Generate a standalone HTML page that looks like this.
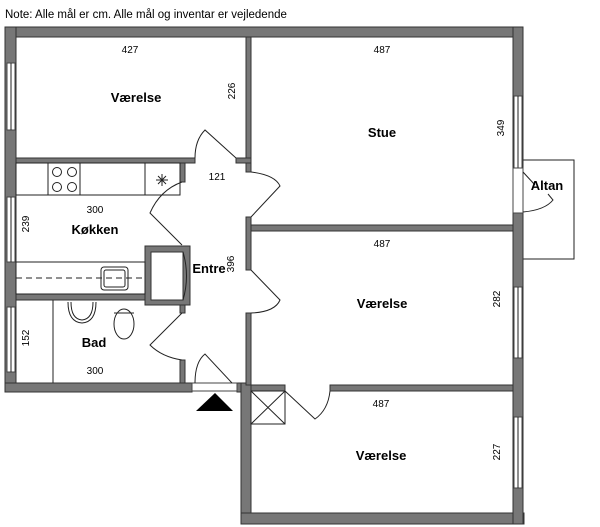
<!DOCTYPE html>
<html><head><meta charset="utf-8"><style>
html,body{margin:0;padding:0;background:#fff;width:600px;height:527px;overflow:hidden}
svg{display:block}
text{font-family:"Liberation Sans","DejaVu Sans",sans-serif;fill:#000}
.w{fill:#777;stroke:#333;stroke-width:1}
.l{fill:none;stroke:#222;stroke-width:1}
.win{fill:#fff;stroke:#444;stroke-width:1}
.t{font-size:10px}
.b{font-size:13px;font-weight:bold}
</style></head><body>
<svg width="600" height="527" viewBox="0 0 600 527">
<text x="5" y="18" style="font-size:11.5px">Note: Alle mål er cm. Alle mål og inventar er vejledende</text>
<rect x="523" y="160" width="51" height="99" class="l"/>
<rect x="5" y="27" width="518" height="10" class="w"/>
<rect x="5" y="27" width="11" height="365" class="w"/>
<rect x="5" y="383" width="187" height="9" class="w"/>
<rect x="237" y="383" width="14" height="9" class="w"/>
<rect x="241" y="383" width="10" height="141" class="w"/>
<rect x="241" y="513" width="283" height="11" class="w"/>
<rect x="513" y="27" width="10" height="497" class="w"/>
<rect x="246" y="37" width="5" height="135" class="w"/>
<rect x="16" y="158" width="179" height="5" class="w"/>
<rect x="236" y="158" width="15" height="5" class="w"/>
<rect x="246" y="217" width="5" height="53" class="w"/>
<rect x="251" y="225" width="262" height="6" class="w"/>
<rect x="246" y="313" width="5" height="72" class="w"/>
<rect x="251" y="385" width="34" height="6" class="w"/>
<rect x="330" y="385" width="183" height="6" class="w"/>
<rect x="180" y="163" width="5" height="19" class="w"/>
<rect x="16" y="294" width="134" height="6" class="w"/>
<rect x="145" y="246" width="45" height="59" class="w"/>
<rect x="151" y="252" width="32" height="48" fill="#fff" stroke="#333"/>
<rect x="180" y="305" width="5" height="8" class="w"/>
<rect x="180" y="360" width="5" height="23" class="w"/>
<rect x="7" y="63" width="8" height="67" class="win"/><line x1="11" y1="63" x2="11" y2="130" class="l"/>
<rect x="7" y="197" width="8" height="65" class="win"/><line x1="11" y1="197" x2="11" y2="262" class="l"/>
<rect x="7" y="307" width="8" height="65" class="win"/><line x1="11" y1="307" x2="11" y2="372" class="l"/>
<rect x="514" y="96" width="8" height="72" class="win"/><line x1="518" y1="96" x2="518" y2="168" class="l"/>
<rect x="513" y="168" width="10" height="45" class="win"/>
<rect x="514" y="287" width="8" height="71" class="win"/><line x1="518" y1="287" x2="518" y2="358" class="l"/>
<rect x="514" y="417" width="8" height="71" class="win"/><line x1="518" y1="417" x2="518" y2="488" class="l"/>
<rect x="192" y="383" width="45" height="8" class="win"/>
<path d="M195 158 Q195 140 205 130 L236 158" class="l"/>
<path d="M251 172 Q275 175 280 186 L251 217" class="l"/>
<path d="M182 182 Q160 190 150 213 L182 245" class="l"/>
<path d="M251 270 L280 300 Q275 312 251 313" class="l"/>
<path d="M182 313 L150 345 Q162 357 182 360" class="l"/>
<path d="M195 383 Q195 362 205 354 L232 383" class="l"/>
<path d="M285 391 L315 419 Q328 410 330 391" class="l"/>
<path d="M523 172 L535 185" class="l"/>
<path d="M523 212 Q545 210 553 200 L548 194" class="l"/>
<path d="M183 252 Q190 276 183 300" class="l"/>
<polygon points="196,411 233,411 215,393" fill="#000"/>
<rect x="251" y="391" width="34" height="33" class="l"/>
<path d="M251 391 L285 424 M285 391 L251 424" class="l"/>
<rect x="16" y="163" width="164" height="32" class="l"/>
<line x1="48" y1="163" x2="48" y2="195" class="l"/><line x1="80" y1="163" x2="80" y2="195" class="l"/>
<line x1="145" y1="163" x2="145" y2="195" class="l"/>
<circle cx="57" cy="172" r="4.5" class="l"/><circle cx="72" cy="172" r="4.5" class="l"/>
<circle cx="57" cy="187" r="4.5" class="l"/><circle cx="72" cy="187" r="4.5" class="l"/>
<path d="M156 180 H168 M162 174 V186 M158 176 L166 184 M166 176 L158 184" class="l" stroke-width="0.7"/>
<rect x="16" y="262" width="129" height="32" class="l"/>
<line x1="16" y1="278" x2="145" y2="278" class="l" stroke-dasharray="6,4"/>
<rect x="101" y="267" width="27" height="23" rx="3" class="l"/>
<rect x="104" y="270" width="21" height="17" rx="2" class="l"/>
<line x1="53" y1="300" x2="53" y2="383" class="l"/>
<path d="M68 302 Q68 322 82 323 Q96 322 96 302" class="l"/>
<path d="M71 302 Q71 319 82 320 Q93 319 93 302" class="l"/>
<ellipse cx="124" cy="324" rx="10" ry="15" class="l"/>
<line x1="114" y1="313" x2="134" y2="313" class="l"/>
<text x="130" y="53" class="t" text-anchor="middle">427</text>
<text x="136" y="102" class="b" text-anchor="middle">Værelse</text>
<text x="239" y="95" class="t" text-anchor="middle" transform="rotate(-90 235 95)">226</text>
<text x="382" y="53" class="t" text-anchor="middle">487</text>
<text x="382" y="137" class="b" text-anchor="middle">Stue</text>
<text x="508" y="132" class="t" text-anchor="middle" transform="rotate(-90 504 132)">349</text>
<text x="547" y="190" class="b" text-anchor="middle">Altan</text>
<text x="217" y="180" class="t" text-anchor="middle">121</text>
<text x="95" y="213" class="t" text-anchor="middle">300</text>
<text x="95" y="234" class="b" text-anchor="middle">Køkken</text>
<text x="33" y="228" class="t" text-anchor="middle" transform="rotate(-90 29 228)">239</text>
<text x="209" y="273" class="b" text-anchor="middle">Entre</text>
<text x="238" y="268" class="t" text-anchor="middle" transform="rotate(-90 234 268)">396</text>
<text x="382" y="247" class="t" text-anchor="middle">487</text>
<text x="382" y="308" class="b" text-anchor="middle">Værelse</text>
<text x="504" y="303" class="t" text-anchor="middle" transform="rotate(-90 500 303)">282</text>
<text x="33" y="342" class="t" text-anchor="middle" transform="rotate(-90 29 342)">152</text>
<text x="94" y="347" class="b" text-anchor="middle">Bad</text>
<text x="95" y="374" class="t" text-anchor="middle">300</text>
<text x="381" y="407" class="t" text-anchor="middle">487</text>
<text x="381" y="460" class="b" text-anchor="middle">Værelse</text>
<text x="504" y="456" class="t" text-anchor="middle" transform="rotate(-90 500 456)">227</text>
</svg>
</body></html>
